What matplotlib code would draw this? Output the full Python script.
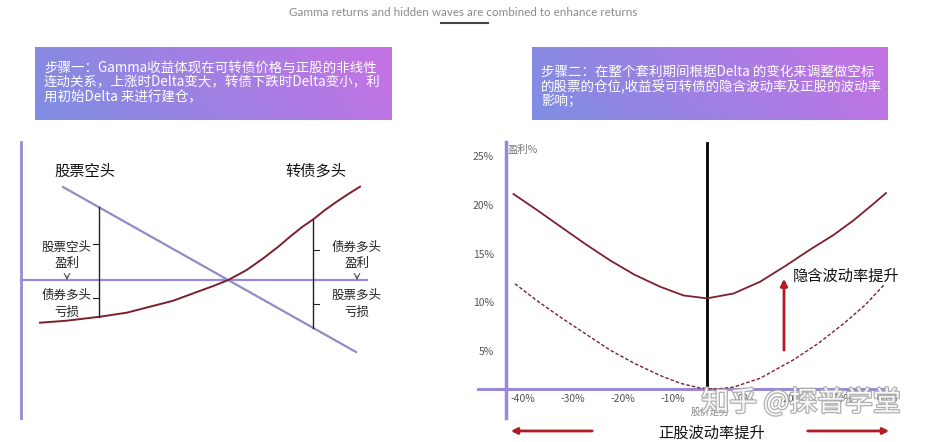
import matplotlib as mpl
mpl.use('Agg')
from matplotlib import pyplot as plt
import matplotlib.patheffects as pe
import numpy as np

plt.rcParams['font.family'] = ['Noto Sans CJK SC', 'DejaVu Sans']

# ---- data ----
title = 'Gamma returns and hidden waves are combined to enhance returns'
step1 = ['步骤一：Gamma收益体现在可转债价格与正股的非线性',
         '连动关系，上涨时Delta变大，转债下跌时Delta变小，利',
         '用初始Delta 来进行建仓，']
step2 = ['步骤二：在整个套利期间根据Delta 的变化来调整做空标',
         '的股票的仓位,收益受可转债的隐含波动率及正股的波动率',
         '影响；']

# left panel (schematic units: stock price vs P&L)
short_x = [42, 335]
short_y = [93, -72]
cb_x = [19, 45.7, 79, 105.7, 129, 152.3, 172.3, 192.3, 207.3, 225.7,
        242.3, 257.3, 269, 280.7, 292.3, 304, 315.7, 327.3, 339]
cb_y = [-42.7, -40.7, -36.7, -32.7, -26.7, -20.7, -13.3, -6, 0, 10,
        21.7, 33.3, 43.3, 52.7, 60.7, 70, 78.3, 86, 93.3]
bracket_x = [78, 292]

# right panel (stock move % vs profit %)
solid_x = [-38.7, -34.1, -29.4, -24.4, -19.4, -14.4, -9.4, -4.7, 0, 5.3,
           10.6, 15.6, 20.6, 25.3, 29.3, 32.6, 35.8]
solid_y = [21.2, 19.6, 17.9, 16.1, 14.4, 12.9, 11.7, 10.8, 10.5, 11.0,
           12.2, 13.8, 15.5, 17.0, 18.5, 19.9, 21.3]
dash_x = [-38.4, -34.1, -29.4, -24.4, -19.4, -14.4, -9.4, -5.4, -1.4, 1.9,
          5.3, 10.6, 17.3, 22.3, 27.3, 31.6, 35.6]
dash_y = [12.0, 10.3, 8.6, 6.9, 5.2, 3.8, 2.6, 1.8, 1.3, 1.2,
          1.4, 2.3, 4.2, 5.9, 7.9, 9.8, 12.0]
xtick_pos = [-36.8, -26.8, -16.8, -6.8, 7.2, 17.2, 27.2, 36]
xtick_lab = ['-40%', '-30%', '-20%', '-10%', '10%', '20%', '30%', '40%']
ytick_val = [5, 10, 15, 20, 25]

W, H = 926, 442
purple = '#9b88d6'
lav = '#8f8cc8'
dred = '#7e1f2c'
red = '#b01c24'

fig = plt.figure(figsize=(W / 100, H / 100), dpi=100)
fig.patch.set_facecolor('white')

# ---- overlay in pixel coords: title + text boxes ----
ov = fig.add_axes([0, 0, 1, 1])
ov.set_axis_off()
ov.text(463, 12, title, ha='center', va='center', fontsize=8.4,
        color='#8a8a8a', family=['Lato', 'DejaVu Sans'])
ov.plot([441, 488], [23, 23], color='#444444', lw=1.5)

gx, gy = np.meshgrid(np.linspace(0, 1, 200), np.linspace(0, 1, 40))
t = np.clip(0.85 * gx + 0.15 * (1 - gy), 0, 1)
c0 = np.array([126, 142, 226]) / 255.
c1 = np.array([198, 114, 228]) / 255.
grad = c0[None, None, :] * (1 - t[..., None]) + c1[None, None, :] * t[..., None]

for (x0, x1, y0, y1), lines, ty in [((35, 392, 47, 120), step1, 68),
                                     ((532, 888, 47, 120), step2, 72)]:
    ov.imshow(grad, extent=(x0, x1, y1, y0), aspect='auto', zorder=1)
    for i, s in enumerate(lines):
        ov.text(x0 + 9, ty + i * 14.5, s, ha='left', va='center', fontsize=9.7,
                color='white', zorder=2)
ov.set_xlim(0, W)
ov.set_ylim(H, 0)

# ---- left panel ----
axl = fig.add_axes([0, 0, 460 / W, 1])
axl.set_axis_off()
axl.set_xlim(-21, 439)
axl.set_ylim(-162, 280)
axl.plot([0, 0], [-138, 138], color=purple, lw=2)
axl.plot([0, 346], [0, 0], color=purple, lw=1.6)
axl.plot(short_x, short_y, color=lav, lw=1.6)
axl.plot(cb_x, cb_y, color=dred, lw=1.4)

for i, bx in enumerate(bracket_x):
    top = np.interp(bx, short_x, short_y)
    bot = np.interp(bx, cb_x, cb_y)
    hi, lo = max(top, bot), min(top, bot)
    axl.plot([bx, bx], [lo, hi], color='#222222', lw=1)
    d = -6 if i == 0 else 6
    for m in (hi / 2, lo / 2):
        axl.plot([bx, bx + d], [m, m], color='#222222', lw=0.8)

axl.text(64, 109, '股票空头', ha='center', va='center', fontsize=11, color='#111111')
axl.text(295, 109, '转债多头', ha='center', va='center', fontsize=11, color='#111111')

for cx, labs in [(46, ['股票空头', '盈利', '债券多头', '亏损']),
                 (336, ['债券多头', '盈利', '股票多头', '亏损'])]:
    for ly, s in zip([33, 17, -15, -32], labs):
        axl.text(cx, ly, s, ha='center', va='center', fontsize=9, color='#222222')
    axl.annotate('', xy=(cx, -3), xytext=(cx, 7),
                 arrowprops=dict(arrowstyle='->', color='#555555', lw=0.8))

# ---- right panel ----
x0px, x1px = 457, 907
ax = fig.add_axes([x0px / W, (H - 439.75) / H, (x1px - x0px) / W, (439.75 - 137.5) / H])
ax.set_axis_off()
ax.patch.set_alpha(0)
ax.set_xlim(-50, 40)
ax.set_ylim(-4, 27)

ax.plot([-45.8, 36], [1.2, 1.2], color=purple, lw=2.2)
ax.plot([-40.2, -40.2], [-1.8, 26.5], color=purple, lw=2.5)
ax.plot([0, 0], [1.2, 26.4], color='black', lw=2)
ax.plot(solid_x, solid_y, color=dred, lw=1.3)
ax.plot(dash_x, dash_y, color=dred, lw=1, linestyle=(0, (2.5, 1.5)))

for v in ytick_val:
    ax.text(-42.6, v, '%d%%' % v, ha='right', va='center', fontsize=7.5, color='#555555')
for p, s in zip(xtick_pos, xtick_lab):
    ax.text(p, 0.2, s, ha='center', va='center', fontsize=7.5, color='#555555')

ax.text(-39.8, 25.7, '盈利%', ha='left', va='center', fontsize=7.5, color='#777777')
ax.text(0.6, -1.15, '股价走势', ha='center', va='center', fontsize=7, color='#888888')

ax.annotate('', xy=(15.4, 12.8), xytext=(15.4, 4.9),
            arrowprops=dict(arrowstyle='-|>', color=red, lw=2, mutation_scale=10))
ax.text(17.2, 12.8, '隐含波动率提升', ha='left', va='center', fontsize=11, color='#111111')

ax.annotate('', xy=(-39.8, -3.1), xytext=(-22.4, -3.1),
            arrowprops=dict(arrowstyle='-|>', color=red, lw=2, mutation_scale=9))
ax.annotate('', xy=(37, -3.1), xytext=(19.6, -3.1),
            arrowprops=dict(arrowstyle='-|>', color=red, lw=2, mutation_scale=9))
ax.text(1, -3.3, '正股波动率提升', ha='center', va='center', fontsize=11, color='#111111')

# watermark
ax.text(18.8, -0.2, '知乎 @探普学堂', ha='center', va='center', fontsize=20,
        color='white', alpha=0.9, clip_on=False,
        path_effects=[pe.withStroke(linewidth=1.8, foreground='#a8a8a8')])

plt.savefig('out.png', dpi=100)
